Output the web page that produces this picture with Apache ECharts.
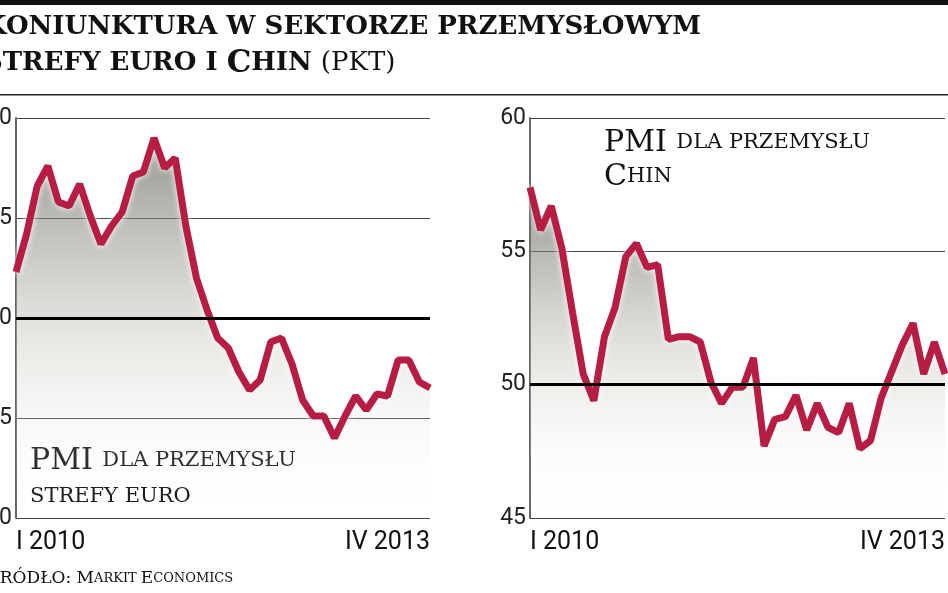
<!DOCTYPE html><html><head><meta charset="utf-8"><script src="https://cdn.jsdelivr.net/npm/echarts@6/dist/echarts.min.js"></script>
<style>body{margin:0;background:#fff}#c{width:948px;height:593px}</style></head><body><div id="c"></div><script>
const months = Array.from({length:40},(_,i)=>i);
const xLabels = ['I 2010','IV 2013'];
const euroPMI = [52.3,54.2,56.6,57.6,55.8,55.6,56.7,55.1,53.7,54.6,55.3,57.1,57.3,59.0,57.5,58.0,54.6,52.0,50.4,49.0,48.5,47.3,46.4,46.9,48.8,49.0,47.7,45.9,45.1,45.1,44.0,45.1,46.1,45.4,46.2,46.1,47.9,47.9,46.8,46.5];
const chinaPMI = [57.4,55.8,56.7,55.1,52.7,50.4,49.4,51.8,52.9,54.8,55.3,54.4,54.5,51.7,51.8,51.8,51.6,50.1,49.3,49.9,49.9,51.0,47.7,48.7,48.8,49.6,48.3,49.3,48.4,48.2,49.3,47.6,47.9,49.5,50.5,51.5,52.3,50.4,51.6,50.4];
const RED='#b71c43';
function xAxis(gi){return {type:'category',gridIndex:gi,data:months,boundaryGap:false,
  axisLine:{show:false},axisTick:{show:false},
  axisLabel:{interval:0,margin:12,fontFamily:'Liberation Sans Narrow, Roboto',fontSize:25,color:'#111',
    formatter:(v,i)=>i===0?xLabels[0]:(i===39?xLabels[1]:''),alignMinLabel:'left',alignMaxLabel:'right'}};}
function yAxis(gi,min){return {type:'value',gridIndex:gi,min:min,max:60,interval:5,
  axisLine:{show:true,lineStyle:{color:'#666',width:2}},axisTick:{show:false},
  axisLabel:{margin:4,fontFamily:'Liberation Sans Narrow, Roboto',fontSize:23,color:'#222'},
  splitLine:{lineStyle:{color:'#444',width:1.2}}};}
function ser(gi,data){return {type:'line',xAxisIndex:gi,yAxisIndex:gi,data:data,symbol:'none',
  lineStyle:{color:RED,width:7,shadowColor:'rgba(255,255,255,1)',shadowBlur:6},
  areaStyle:{origin:'start',color:{type:'linear',x:0,y:0,x2:0,y2:1,colorStops:[{offset:0,color:'rgba(95,95,85,0.95)'},{offset:0.5,color:'rgba(190,190,180,0.6)'},{offset:1,color:'rgba(255,255,255,0)'}]}},
  markLine:{silent:true,symbol:'none',label:{show:false},lineStyle:{color:'#000',width:3,type:'solid'},data:[{yAxis:50}]},z:3};}
const chart=echarts.init(document.getElementById('c'));
chart.setOption({animation:false,
 grid:[{left:16,right:518,top:118,bottom:75,outerBoundsMode:'none'},{left:530,right:3,top:118,bottom:75,outerBoundsMode:'none'}],
 xAxis:[xAxis(0),xAxis(1)],yAxis:[yAxis(0,40),yAxis(1,45)],
 series:[ser(0,euroPMI),ser(1,chinaPMI)],
 graphic:[
  {type:'rect',shape:{x:0,y:0,width:948,height:5},style:{fill:'#111'}},
  {type:'rect',shape:{x:0,y:94,width:948,height:1.5},style:{fill:'#222'}},
  {type:'text',left:-16,top:14,style:{text:'KONIUNKTURA W SEKTORZE PRZEMYSŁOWYM',font:'900 26px "DejaVu Serif"',fill:'#111'}},
  {type:'text',left:-16,top:48,style:{text:'{a|STREFY EURO I }{b|C}{a|HIN }{c|(PKT)}',rich:{a:{font:'900 26px "DejaVu Serif"',fill:'#111'},b:{font:'900 31px "DejaVu Serif"',fill:'#111'},c:{font:'26px "DejaVu Serif"',fill:'#111'}}}},
  {type:'text',left:30,top:446,style:{text:'{p|PMI }{s|DLA PRZEMYSŁU}\n{s|STREFY EURO}',rich:{p:{font:'30px "DejaVu Serif"',fill:'#111',lineHeight:36},s:{font:'21px "DejaVu Serif"',fill:'#111',lineHeight:36}}}},
  {type:'text',left:604,top:128,style:{text:'{p|PMI }{s|DLA PRZEMYSŁU}\n{p|C}{s|HIN}',rich:{p:{font:'30px "DejaVu Serif"',fill:'#111',lineHeight:34},s:{font:'21px "DejaVu Serif"',fill:'#111',lineHeight:34}}}},
  {type:'text',left:-12,top:570,style:{text:'{a|ŹRÓDŁO: M}{b|ARKIT }{a|E}{b|CONOMICS}',rich:{a:{font:'17px "DejaVu Serif"',fill:'#111'},b:{font:'13px "DejaVu Serif"',fill:'#111'}}}}
 ]});
</script></body></html>
